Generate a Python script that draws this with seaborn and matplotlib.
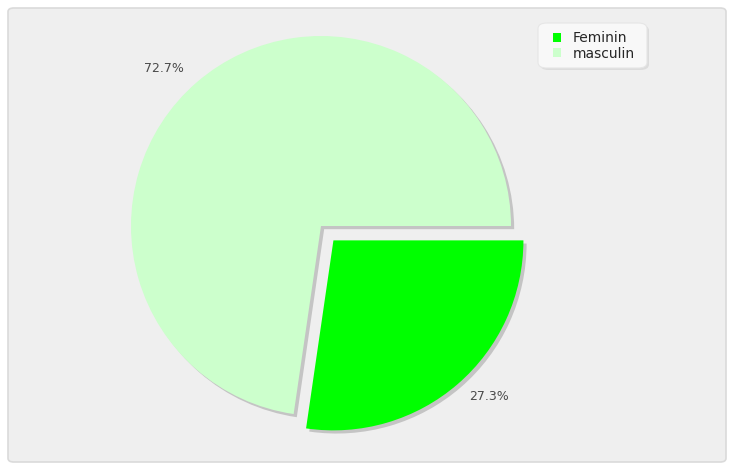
import matplotlib
matplotlib.use("Agg")
import matplotlib.pyplot as plt
from matplotlib.patches import FancyBboxPatch
import numpy as np
import seaborn as sns

# data
labels = ["Feminin", "masculin"]
values = [27.3, 72.7]
colors = ["#00FF00", "#CCFFCC"]

sns.set_style("white")
plt.rcParams['font.family'] = ['DejaVu Sans']

W, H = 733, 469
fig = plt.figure(figsize=(W / 100, H / 100), dpi=100, facecolor="white")


def fig_box(x0, y0, x1, y1, **kw):
    # rounded box given in pixel coords (top-left origin)
    p = FancyBboxPatch((x0 / W, 1 - y1 / H), (x1 - x0) / W, (y1 - y0) / H,
                       transform=fig.transFigure, **kw)
    fig.patches.append(p)
    return p


# rounded grey panel behind everything
fig_box(8, 8, 726, 462, boxstyle="round,pad=0,rounding_size=0.008",
        facecolor="#EFEFEF", edgecolor="#DADADA", linewidth=1.2, zorder=-5)

ax = fig.add_axes([0, 0, 1, 1])
ax.axis("off")

explode = (0.1, 0)
wedges, texts, autotexts = ax.pie(
    values, colors=colors, startangle=0, counterclock=False,
    explode=explode, autopct="%1.1f%%", pctdistance=1.17,
    shadow={"ox": 0.012, "oy": -0.012, "facecolor": "#C4C4C4",
            "edgecolor": "none", "alpha": 1},
    wedgeprops={"linewidth": 0},
    textprops={"fontsize": 9, "color": "#4A4A4A"})

# label placement as in the original (diagonal from each slice centre)
label_angles = [-45, 135]
label_dist = [1.16, 1.17]
for t, w, a, d in zip(autotexts, wedges, label_angles, label_dist):
    c = w.center
    t.set_position((c[0] + d * np.cos(np.radians(a)), c[1] + d * np.sin(np.radians(a))))

# pie centre at pixel (321, 226), radius 190 px
cx, cy, R = 321, 226, 190
ax.set_aspect("auto")
ax.set_xlim((0 - cx) / R, (W - cx) / R)
ax.set_ylim((cy - H) / R, (cy - 0) / R)

# legend box with soft shadow
fig_box(540, 25, 649, 70, boxstyle="round,pad=0,rounding_size=0.012",
        facecolor="#DCDCDC", edgecolor="none", zorder=3)
fig_box(538, 23, 647, 68, boxstyle="round,pad=0,rounding_size=0.012",
        facecolor="#F8F8F8", edgecolor="#E6E6E6", linewidth=0.8, zorder=3)

leg = fig.legend(wedges, labels, loc="upper left",
                 bbox_to_anchor=(553 / W, 1 - 31 / H), bbox_transform=fig.transFigure,
                 frameon=False, fontsize=10,
                 handlelength=0.6, handleheight=0.6, handletextpad=0.8,
                 labelspacing=0.12, borderpad=0, borderaxespad=0)
leg.set_zorder(5)

fig.savefig("out.png", dpi=100, facecolor="white")
